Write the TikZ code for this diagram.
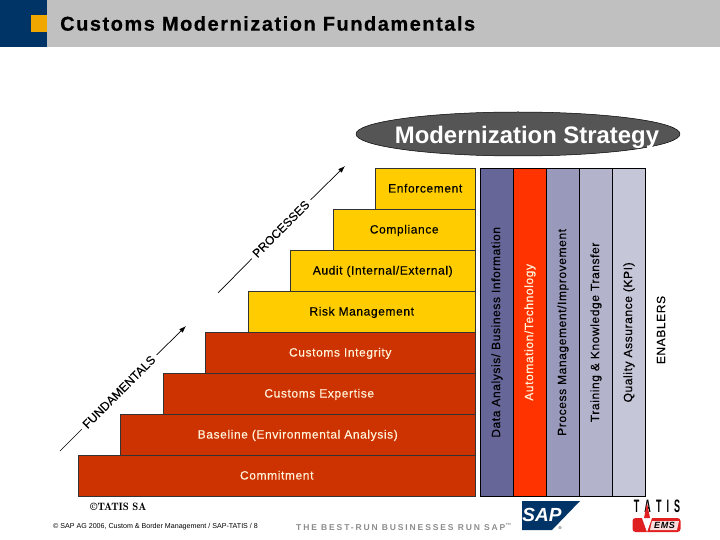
\documentclass[tikz,border=0pt]{standalone}
\usepackage{fontspec}
\usepackage{graphicx}
\setmainfont{Liberation Sans}
\usetikzlibrary{shapes.geometric, arrows.meta, positioning}
\definecolor{CM_NAVY}{HTML}{003366}
\definecolor{CM_ORANGE}{HTML}{F0A800}
\definecolor{CM_GRAY}{HTML}{C0C0C0}
\definecolor{CM_RED}{HTML}{CC3300}
\definecolor{CM_YELLOW}{HTML}{FFCC00}
\definecolor{CM_CREAM}{HTML}{FFF2D9}
\definecolor{CM_DARK}{HTML}{555555}
\definecolor{CM_COLA}{HTML}{666699}
\definecolor{CM_COLB}{HTML}{FF3300}
\definecolor{CM_COLC}{HTML}{9999BB}
\definecolor{CM_COLD}{HTML}{B3B3CC}
\definecolor{CM_COLE}{HTML}{C6C6D9}
\definecolor{CM_SLOGAN}{HTML}{8C8C8C}
\definecolor{CM_EMS}{HTML}{E02020}
\newcommand{\vtext}[1]{\rotatebox{90}{#1}}
\newcommand{\bodyfont}{\fontsize{12}{14}\selectfont\addfontfeature{LetterSpace=5,FakeBold=0.3}}
\tikzset{
  band/.style={
    rectangle, inner sep=0pt, outer sep=0pt, draw=none},
  redstep/.style={
    rectangle, inner sep=0pt, outer sep=0pt,
    minimum height=41pt, text centered,
    text height=10pt, text depth=2pt,
    draw=black!80, line width=0.7pt, fill=CM_RED,
    text=CM_CREAM, font=\bodyfont},
  yelstep/.style={
    rectangle, inner sep=0pt, outer sep=0pt,
    minimum height=41pt, text centered,
    text height=10pt, text depth=2pt,
    draw=black!80, line width=0.7pt, fill=CM_YELLOW,
    text=black, font=\bodyfont},
  enabler/.style={
    rectangle, inner sep=0pt, outer sep=0pt,
    minimum width=33pt, minimum height=327.3pt, text centered,
    draw=black, line width=0.8pt, font=\bodyfont},
  slant/.style={
    rotate=45, inner sep=4pt,
    font=\fontsize{12}{14}\selectfont\addfontfeature{FakeBold=0.2}},
  arr/.style={-{Latex[length=7pt,width=5pt]}, line width=0.7pt},
  plain/.style={line width=0.7pt},
}

\begin{document}
\begin{tikzpicture}[x=1pt, y=-1pt]
  \useasboundingbox (0,0) rectangle (720,540);

  % header
  \node[band, fill=CM_NAVY, minimum width=47pt, minimum height=47pt, anchor=north west] (navy) at (0,0) {};
  \node[band, fill=CM_GRAY, minimum width=673pt, minimum height=47pt, right=0pt of navy] (head) {};
  \node[band, fill=CM_ORANGE, minimum width=16pt, minimum height=17pt, anchor=north east] (chip) at (47,15) {};
  \node[anchor=west, inner sep=0pt, font=\bfseries\fontsize{20}{23}\selectfont\addfontfeature{LetterSpace=7.6,FakeBold=0.5}] (title) at (60,23.5) {Customs Modernization Fundamentals};

  % strategy
  \node[ellipse, draw=black, line width=0.5pt, line join=round, fill=CM_DARK, minimum width=324pt, minimum height=44pt, inner sep=0pt] (strategy) at (518,134) {};
  \node[text=white, inner sep=0pt, font=\bfseries\fontsize{23.9}{28}\selectfont] (strategytxt) at (527,137) {Modernization Strategy};

  % steps
  \node[redstep, minimum width=397.5pt, anchor=north west] (commit) at (78,455) {Commitment};
  \node[redstep, minimum width=355.5pt, above left=0pt and 0pt of commit.north east] (base) {Baseline (Environmental Analysis)};
  \node[redstep, minimum width=312.5pt, above left=0pt and 0pt of base.north east] (expert) {Customs Expertise};
  \node[redstep, minimum width=270.5pt, above left=0pt and 0pt of expert.north east] (integ) {Customs Integrity};
  \node[yelstep, minimum width=227.5pt, above left=0pt and 0pt of integ.north east] (risk) {Risk Management};
  \node[yelstep, minimum width=185.5pt, above left=0pt and 0pt of risk.north east] (audit) {Audit (Internal/External)};
  \node[yelstep, minimum width=142.5pt, above left=0pt and 0pt of audit.north east] (compl) {Compliance};
  \node[yelstep, minimum width=100.5pt, above left=0pt and 0pt of compl.north east] (enforce) {Enforcement};

  % enablers
  \node[enabler, fill=CM_COLA, anchor=north west] (data) at (480.5,168.7) {\vtext{Data Analysis/ Business Information}};
  \node[enabler, fill=CM_COLB, text=CM_CREAM, right=0pt of data] (auto) {\vtext{Automation/Technology}};
  \node[enabler, fill=CM_COLC, right=0pt of auto] (proc) {\vtext{Process Management/Improvement}};
  \node[enabler, fill=CM_COLD, right=0pt of proc] (train) {\vtext{Training \& Knowledge Transfer}};
  \node[enabler, fill=CM_COLE, right=0pt of train] (qual) {\vtext{Quality Assurance (KPI)}};
  \node[inner sep=0pt, font=\bodyfont] (enablers) at (661,330) {\vtext{ENABLERS}};

  % slanted labels
  \node[slant] (fund) at (119,392) {FUNDAMENTALS};
  \node[slant] (process) at (281,229) {PROCESSES};
  \coordinate (fundfoot) at (60,451);
  \coordinate (fundtip) at (186,326);
  \coordinate (procfoot) at (218,293);
  \coordinate (proctip) at (345,166);
  \draw[plain] (fundfoot) -- (fund);
  \draw[arr] (fund) -- (fundtip);
  \draw[plain] (procfoot) -- (process);
  \draw[arr] (process) -- (proctip);

  % footer
  \node[anchor=west, inner sep=0pt, font=\fontfamily{lmr}\bfseries\fontsize{10.7}{12}\selectfont] (tatissa) at (90,506.5) {©TATIS SA};
  \node[anchor=west, inner sep=0pt, font=\fontsize{7.1}{9}\selectfont] (copy) at (53,527) {© SAP AG 2006, Custom \& Border Management / SAP-TATIS / 8};
  \node[anchor=west, inner sep=0pt, text=CM_SLOGAN, font=\bfseries\fontsize{8.5}{10}\selectfont] (slogan) at (296,527) {\addfontfeature{LetterSpace=22}THE BEST-RUN BUSINESSES RUN SAP\textsuperscript{™}};

  % sap mark
  \fill[CM_NAVY] (522,501) -- (580,501) -- (552,530) -- (522,530) -- cycle;
  \node[text=white, inner sep=0pt, font=\bfseries\itshape\fontsize{19}{20}\selectfont] (sap) at (542,515) {SAP};
  \node[inner sep=0pt, font=\fontsize{4}{5}\selectfont] (regd) at (560,528) {®};

  % tatis mark
  \node[inner sep=0pt, font=\bfseries\fontsize{18}{20}\selectfont] (tatis) at (657,506.5) {\addfontfeature{LetterSpace=28}\scalebox{0.5}[1]{T A T I S}};
  \node[rectangle, rounded corners=3pt, fill=CM_EMS, minimum width=48pt, minimum height=14pt, inner sep=0pt] (ems) at (656.5,525) {};
  \fill[white] (642,518) -- (652,518) -- (647,532) -- cycle;
  \fill[CM_EMS] (647,503) -- (650,518) -- (644,518) -- cycle;
  \fill[white!85!CM_EMS] (652,521) -- (679,521) -- (677,530) -- (650,530) -- cycle;
  \node[text=black, inner sep=0pt, font=\bfseries\itshape\fontsize{9}{10}\selectfont] (emstxt) at (664.5,525.5) {\addfontfeature{LetterSpace=8}EMS};

\end{tikzpicture}
\end{document}
